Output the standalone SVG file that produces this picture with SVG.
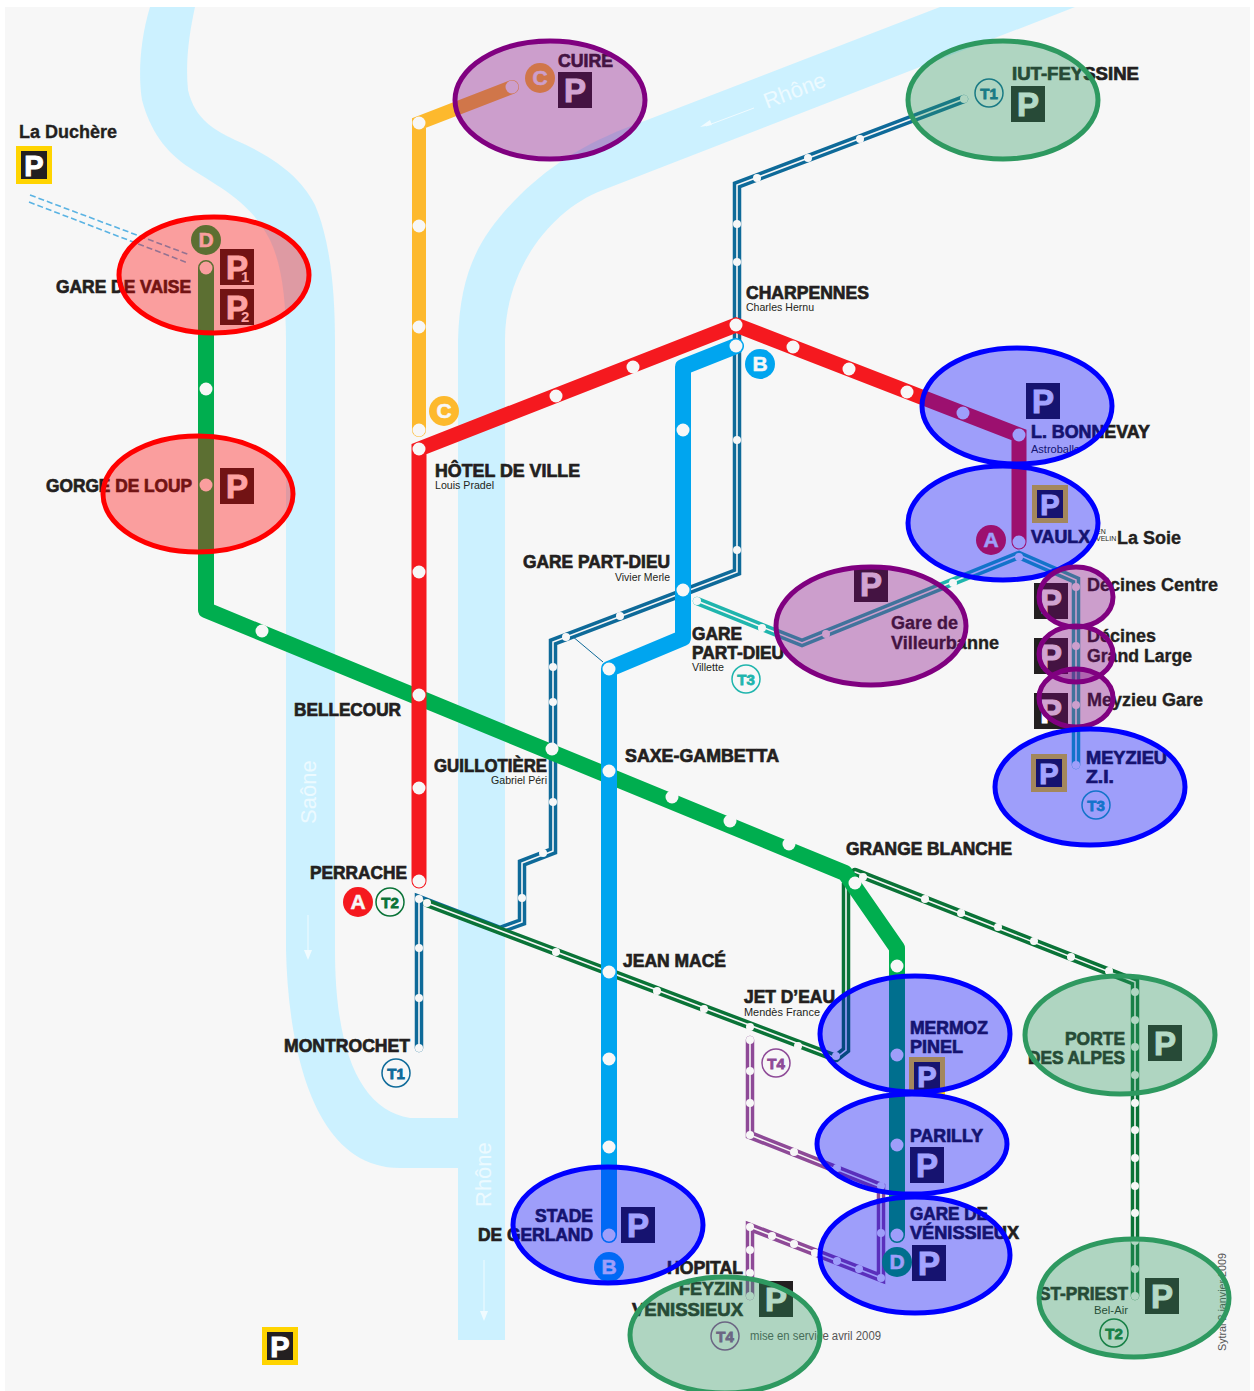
<svg xmlns="http://www.w3.org/2000/svg" width="1254" height="1391" viewBox="0 0 1254 1391">
<style>
text{font-family:"Liberation Sans",Arial,sans-serif;fill:#231f20}
.l{font-size:18px;font-weight:700;stroke:#231f20;stroke-width:.7}
.s{font-size:11px}
.m{font-size:18px;font-weight:700;stroke:#231f20;stroke-width:.35}
.river{fill:#ccf1ff}
.rl{fill:#ecfaff;font-size:22px}
.wa{fill:none;stroke:#f0fbff;stroke-width:1}
.heavy{fill:none;stroke-width:16;stroke-linecap:round;stroke-linejoin:round}
.dbl{fill:none;stroke-width:8.5;stroke-linejoin:miter;stroke-linecap:round}
.in{fill:none;stroke:#f7f7f7;stroke-width:1.6;stroke-linejoin:miter;stroke-linecap:round}
.d6{fill:#f7f7f7;stroke:none}
.ps{fill:#231f20}
.pg{fill:#ffd400}
.pw{font-size:33px;font-weight:700;fill:#fff;text-anchor:middle;stroke:#fff;stroke-width:1}
.ltr{font-size:21px;font-weight:700;fill:#f7f7f7;text-anchor:middle;stroke:#f7f7f7;stroke-width:.5}
.tb{fill:#f7f7f7;stroke-width:1.5}
.tt{font-size:15px;font-weight:700;text-anchor:middle;stroke-width:.8}
.e{stroke-width:5;fill-opacity:.36}
.er{fill:#f00;stroke:#f00}
.eb{fill:#00f;stroke:#00f}
.ep{fill:#800080;stroke:#800080}
.eg{fill:#2e9960;stroke:#2e9960}
</style>
<defs>
<clipPath id="page"><rect x="5" y="7" width="1245" height="1384"/></clipPath>
<symbol id="p" viewBox="0 0 34 36" width="34" height="36"><rect class="ps" width="34" height="36"/><text class="pw" x="17" y="30">P</text></symbol>
<symbol id="pf" viewBox="0 0 36 38" width="36" height="38"><rect class="pg" width="36" height="38"/><rect class="ps" x="5" y="5" width="26" height="28"/><text class="pw" x="18" y="30" style="font-size:29px">P</text></symbol>
</defs>
<rect width="1254" height="1391" fill="#fff"/>
<rect x="5" y="7" width="1245" height="1384" fill="#f7f7f7"/>
<g id="rivers" clip-path="url(#page)">
<path class="river" d="M150 7C140 40 138 75 142 100C150 130 165 152 190 168C215 185 250 200 270 240C282 265 286 300 286 340L286 950C288 1040 310 1168 400 1168L458 1168L458 1340L505 1340L505 340C505 270 550 210 603 190L1075 7L940 7L647 120C590 140 553 163 520 195C480 235 460 270 458 340L458 1118L410 1118C360 1110 335 1050 335 950L335 340C335 290 330 240 315 205C300 175 270 155 235 140C215 130 195 120 188 90C185 60 190 30 195 7Z"/>
<text class="rl" transform="translate(767 109) rotate(-21)">Rhône</text>
<text class="rl" transform="translate(316 824) rotate(-90)">Saône</text>
<text class="rl" transform="translate(491 1207) rotate(-90)">Rhône</text>
<path class="wa" d="M754 108L706 126"/><path fill="#f0fbff" d="M700 127L710 120L712 125Z"/>
<path class="wa" d="M308 915V952"/><path fill="#f0fbff" d="M308 960L304 950H312Z"/>
<path class="wa" d="M484 1260V1312"/><path fill="#f0fbff" d="M484 1321L480 1311H488Z"/>
</g>
<g id="connectors">
<path fill="none" stroke="#5ab3e3" stroke-width="1.6" stroke-dasharray="6 3" d="M30 195L190 255M29 202L188 263"/>
<path fill="none" stroke="#0e6a99" stroke-width="1" d="M572 636L603 662"/>
<path class="dbl" stroke="#0e6a99" d="M964 99L737 185V572L553 642V851L522 863V922L500 930L419 899V1048"/>
<path class="in" d="M964 99L737 185V572L553 642V851L522 863V922L500 930L419 899V1048"/>
<path class="dbl" stroke="#0a7337" d="M427 903L836 1058M855 872L1135 982V1296M836 1058L846 1050V885L855 878"/>
<path class="in" d="M427 903L836 1058M855 872L1135 982V1296M836 1058L846 1050V885L855 878"/>
<path class="dbl" stroke="#1fb5ad" d="M697 601L802 643L1019 555L1076 580V765"/>
<path class="in" d="M697 601L802 643L1019 555L1076 580V765"/>
<path class="dbl" stroke="#8e4a97" d="M750 1040V1135L881 1187V1278L750 1227V1296"/>
<path class="in" d="M750 1040V1135L881 1187V1278L750 1227V1296"/>
<path class="heavy" stroke="#fdb92d" style="stroke-width:14;stroke-linejoin:miter" d="M419 430V123L512 87"/>
<path class="heavy" stroke="#00ae4f" d="M206 268V610L845 873L897 948V1235"/>
<path class="heavy" stroke="#f5191f" style="stroke-width:15;stroke-linejoin:miter" d="M419 881V449L736 325L1019 435V542"/>
<path class="heavy" stroke="#00a5ef" d="M609 1235V669L683 638V367L736 346"/>
</g>
<g id="stops" class="d6">
<g id="stops-large">
<circle cx="419" cy="123" r="6.5"/><circle cx="419" cy="226" r="6.5"/><circle cx="419" cy="327" r="6.5"/><circle cx="419" cy="430" r="6.5"/><circle cx="512" cy="87" r="6.5"/>
<circle cx="419" cy="449" r="6.5"/><circle cx="419" cy="572" r="6.5"/><circle cx="419" cy="695" r="6.5"/><circle cx="419" cy="788" r="6.5"/><circle cx="419" cy="881" r="6.5"/><circle cx="556" cy="396" r="6.5"/><circle cx="633" cy="367" r="6.5"/><circle cx="736" cy="325" r="6.5"/><circle cx="793" cy="347" r="6.5"/><circle cx="849" cy="369" r="6.5"/><circle cx="907" cy="392" r="6.5"/><circle cx="963" cy="413" r="6.5"/><circle cx="1019" cy="435" r="6.5"/><circle cx="1019" cy="542" r="6.5"/>
<circle cx="736" cy="346" r="6.5"/><circle cx="683" cy="430" r="6.5"/><circle cx="683" cy="590" r="6.5"/><circle cx="609" cy="669" r="6.5"/><circle cx="609" cy="771" r="6.5"/><circle cx="609" cy="972" r="6.5"/><circle cx="609" cy="1059" r="6.5"/><circle cx="609" cy="1147" r="6.5"/><circle cx="609" cy="1235" r="6.5"/>
<circle cx="206" cy="268" r="6.5"/><circle cx="206" cy="389" r="6.5"/><circle cx="206" cy="485" r="6.5"/><circle cx="262" cy="631" r="6.5"/><circle cx="552" cy="749" r="6.5"/><circle cx="672" cy="797" r="6.5"/><circle cx="730" cy="821" r="6.5"/><circle cx="789" cy="844" r="6.5"/><circle cx="855" cy="883" r="6.5"/><circle cx="897" cy="966" r="6.5"/><circle cx="897" cy="1055" r="6.5"/><circle cx="897" cy="1145" r="6.5"/><circle cx="897" cy="1235" r="6.5"/>
</g>
<g id="stops-small">
<circle cx="964" cy="99" r="4"/><circle cx="860" cy="139" r="4"/><circle cx="808" cy="158" r="4"/><circle cx="757" cy="178" r="4"/><circle cx="737" cy="224" r="4"/><circle cx="737" cy="262" r="4"/><circle cx="737" cy="440" r="4"/><circle cx="737" cy="550" r="4"/><circle cx="620" cy="616" r="4"/><circle cx="566" cy="637" r="4"/><circle cx="553" cy="667" r="4"/><circle cx="553" cy="702" r="4"/><circle cx="553" cy="802" r="4"/><circle cx="543" cy="853" r="4"/><circle cx="522" cy="898" r="4"/><circle cx="419" cy="899" r="4"/><circle cx="419" cy="948" r="4"/><circle cx="419" cy="998" r="4"/><circle cx="419" cy="1048" r="4"/>
<circle cx="427" cy="903" r="4"/><circle cx="556" cy="952" r="4"/><circle cx="657" cy="991" r="4"/><circle cx="704" cy="1009" r="4"/><circle cx="750" cy="1027" r="4"/><circle cx="798" cy="1046" r="4"/><circle cx="836" cy="1056" r="4"/>
<circle cx="863" cy="877" r="4"/><circle cx="925" cy="899" r="4"/><circle cx="961" cy="913" r="4"/><circle cx="998" cy="927" r="4"/><circle cx="1034" cy="941" r="4"/><circle cx="1071" cy="957" r="4"/><circle cx="1109" cy="971" r="4"/><circle cx="1135" cy="992" r="4"/><circle cx="1135" cy="1020" r="4"/><circle cx="1135" cy="1047" r="4"/><circle cx="1135" cy="1075" r="4"/><circle cx="1135" cy="1103" r="4"/><circle cx="1135" cy="1130" r="4"/><circle cx="1135" cy="1158" r="4"/><circle cx="1135" cy="1186" r="4"/><circle cx="1135" cy="1213" r="4"/><circle cx="1135" cy="1241" r="4"/><circle cx="1135" cy="1269" r="4"/><circle cx="1135" cy="1296" r="4"/>
<circle cx="697" cy="601" r="4"/><circle cx="762" cy="628" r="4"/><circle cx="826" cy="634" r="4"/><circle cx="953" cy="583" r="4"/><circle cx="1019" cy="557" r="4"/><circle cx="1076" cy="587" r="4"/><circle cx="1076" cy="646" r="4"/><circle cx="1076" cy="705" r="4"/><circle cx="1076" cy="765" r="4"/>
<circle cx="750" cy="1040" r="4"/><circle cx="750" cy="1071" r="4"/><circle cx="750" cy="1103" r="4"/><circle cx="750" cy="1135" r="4"/><circle cx="794" cy="1152" r="4"/><circle cx="837" cy="1168" r="4"/><circle cx="881" cy="1186" r="4"/><circle cx="881" cy="1233" r="4"/><circle cx="881" cy="1278" r="4"/><circle cx="859" cy="1269" r="4"/><circle cx="837" cy="1261" r="4"/><circle cx="815" cy="1253" r="4"/><circle cx="794" cy="1244" r="4"/><circle cx="772" cy="1236" r="4"/><circle cx="750" cy="1227" r="4"/><circle cx="750" cy="1250" r="4"/><circle cx="750" cy="1273" r="4"/><circle cx="750" cy="1296" r="4"/>
</g>
</g>
<g id="la-duchere"><text class="m" x="19" y="138" textLength="98" lengthAdjust="spacingAndGlyphs">La Duchère</text><use href="#pf" x="16" y="146"/></g>
<g id="parking-bottom"><use href="#pf" x="262" y="1327"/></g>
<g id="gare-de-vaise"><text class="l" x="56" y="293" textLength="135" lengthAdjust="spacingAndGlyphs">GARE DE VAISE</text><circle cx="206" cy="240" r="15" fill="#00ae4f"/><text class="ltr" x="206" y="247">D</text>
<use href="#p" x="220" y="249"/><text x="241" y="282" style="font-size:15px;font-weight:700;fill:#fff">1</text>
<use href="#p" x="220" y="289"/><text x="241" y="322" style="font-size:15px;font-weight:700;fill:#fff">2</text></g>
<g id="gorge-de-loup"><text class="l" x="46" y="492" textLength="146" lengthAdjust="spacingAndGlyphs">GORGE DE LOUP</text><use href="#p" x="220" y="468"/></g>
<g id="cuire"><text class="l" x="558" y="67" textLength="55" lengthAdjust="spacingAndGlyphs">CUIRE</text><circle cx="540" cy="78" r="15" fill="#fdb92d"/><text class="ltr" x="540" y="85">C</text><use href="#p" x="558" y="72"/></g>
<g id="iut-feyssine"><text class="l" x="1012" y="80" textLength="127" lengthAdjust="spacingAndGlyphs">IUT-FEYSSINE</text><circle class="tb" cx="989" cy="93" r="14" stroke="#0e6a99"/><text class="tt" x="989" y="99" stroke="#0e6a99" style="fill:#0e6a99">T1</text><use href="#p" x="1011" y="86"/></g>
<g id="charpennes"><text class="l" x="746" y="299" textLength="123" lengthAdjust="spacingAndGlyphs">CHARPENNES</text><text class="s" x="746" y="311" textLength="68" lengthAdjust="spacingAndGlyphs">Charles Hernu</text></g>
<g id="hotel-de-ville"><text class="l" x="435" y="477" textLength="145" lengthAdjust="spacingAndGlyphs">HÔTEL DE VILLE</text><text class="s" x="435" y="489" textLength="59" lengthAdjust="spacingAndGlyphs">Louis Pradel</text><circle cx="444" cy="411" r="15" fill="#fdb92d"/><text class="ltr" x="444" y="418">C</text></g>
<g id="gare-part-dieu-vivier"><text class="l" x="523" y="568" textLength="147" lengthAdjust="spacingAndGlyphs">GARE PART-DIEU</text><text class="s" x="615" y="581" textLength="55" lengthAdjust="spacingAndGlyphs">Vivier Merle</text><circle cx="760" cy="364" r="15" fill="#00a5ef"/><text class="ltr" x="760" y="371">B</text></g>
<g id="gare-part-dieu-villette"><text class="l" x="692" y="640" textLength="50" lengthAdjust="spacingAndGlyphs">GARE</text><text class="l" x="692" y="659" textLength="92" lengthAdjust="spacingAndGlyphs">PART-DIEU</text><text class="s" x="692" y="671" textLength="32" lengthAdjust="spacingAndGlyphs">Villette</text><circle class="tb" cx="746" cy="679" r="14" stroke="#1fb5ad"/><text class="tt" x="746" y="685" stroke="#1fb5ad" style="fill:#1fb5ad">T3</text></g>
<g id="l-bonnevay"><use href="#p" x="1026" y="383"/><text class="l" x="1031" y="438" textLength="119" lengthAdjust="spacingAndGlyphs">L. BONNEVAY</text><text class="s" x="1031" y="453" textLength="49" lengthAdjust="spacingAndGlyphs">Astroballe</text></g>
<g id="vaulx-la-soie"><use href="#pf" x="1032" y="485"/><circle cx="991" cy="540" r="15" fill="#f5191f"/><text class="ltr" x="991" y="547">A</text><text class="l" x="1031" y="543" textLength="59" lengthAdjust="spacingAndGlyphs">VAULX</text><text x="1096" y="534" style="font-size:7px">EN</text><text x="1096" y="541" style="font-size:7px">VELIN</text><text class="m" x="1117" y="544" textLength="64" lengthAdjust="spacingAndGlyphs">La Soie</text></g>
<g id="gare-de-villeurbanne"><use href="#p" x="854" y="566"/><text class="m" x="891" y="629" textLength="67" lengthAdjust="spacingAndGlyphs">Gare de</text><text class="m" x="891" y="649" textLength="108" lengthAdjust="spacingAndGlyphs">Villeurbanne</text></g>
<g id="decines-centre"><use href="#p" x="1034" y="583"/><text class="m" x="1087" y="591" textLength="131" lengthAdjust="spacingAndGlyphs">Décines Centre</text></g>
<g id="decines-grand-large"><use href="#p" x="1034" y="638"/><text class="m" x="1087" y="642" textLength="69" lengthAdjust="spacingAndGlyphs">Décines</text><text class="m" x="1087" y="662" textLength="105" lengthAdjust="spacingAndGlyphs">Grand Large</text></g>
<g id="meyzieu-gare"><use href="#p" x="1034" y="693"/><text class="m" x="1087" y="706" textLength="116" lengthAdjust="spacingAndGlyphs">Meyzieu Gare</text></g>
<g id="meyzieu-zi"><use href="#pf" x="1031" y="754"/><text class="l" x="1086" y="764" textLength="81" lengthAdjust="spacingAndGlyphs">MEYZIEU</text><text class="l" x="1086" y="783" textLength="28" lengthAdjust="spacingAndGlyphs">Z.I.</text><circle class="tb" cx="1096" cy="805" r="14" stroke="#1fb5ad"/><text class="tt" x="1096" y="811" stroke="#1fb5ad" style="fill:#1fb5ad">T3</text></g>
<g id="bellecour"><text class="l" x="294" y="716" textLength="107" lengthAdjust="spacingAndGlyphs">BELLECOUR</text></g>
<g id="guillotiere"><text class="l" x="434" y="772" textLength="113" lengthAdjust="spacingAndGlyphs">GUILLOTIÈRE</text><text class="s" x="491" y="784" textLength="56" lengthAdjust="spacingAndGlyphs">Gabriel Péri</text></g>
<g id="saxe-gambetta"><text class="l" x="625" y="762" textLength="154" lengthAdjust="spacingAndGlyphs">SAXE-GAMBETTA</text></g>
<g id="grange-blanche"><text class="l" x="846" y="855" textLength="166" lengthAdjust="spacingAndGlyphs">GRANGE BLANCHE</text></g>
<g id="perrache"><text class="l" x="310" y="879" textLength="97" lengthAdjust="spacingAndGlyphs">PERRACHE</text><circle cx="358" cy="902" r="15" fill="#f5191f"/><text class="ltr" x="358" y="909">A</text><circle class="tb" cx="390" cy="902" r="14" stroke="#0a7337"/><text class="tt" x="390" y="908" stroke="#0a7337" style="fill:#0a7337">T2</text></g>
<g id="jean-mace"><text class="l" x="623" y="967" textLength="103" lengthAdjust="spacingAndGlyphs">JEAN MACÉ</text></g>
<g id="jet-deau"><text class="l" x="744" y="1003" textLength="91" lengthAdjust="spacingAndGlyphs">JET D’EAU</text><text class="s" x="744" y="1016" textLength="76" lengthAdjust="spacingAndGlyphs">Mendès France</text><circle class="tb" cx="776" cy="1063" r="14" stroke="#8e4a97"/><text class="tt" x="776" y="1069" stroke="#8e4a97" style="fill:#8e4a97">T4</text></g>
<g id="montrochet"><text class="l" x="284" y="1052" textLength="126" lengthAdjust="spacingAndGlyphs">MONTROCHET</text><circle class="tb" cx="396" cy="1073" r="14" stroke="#0e6a99"/><text class="tt" x="396" y="1079" stroke="#0e6a99" style="fill:#0e6a99">T1</text></g>
<g id="mermoz-pinel"><text class="l" x="910" y="1034" textLength="78" lengthAdjust="spacingAndGlyphs">MERMOZ</text><text class="l" x="910" y="1053" textLength="53" lengthAdjust="spacingAndGlyphs">PINEL</text><use href="#pf" x="909" y="1057"/></g>
<g id="porte-des-alpes"><text class="l" x="1065" y="1045" textLength="60" lengthAdjust="spacingAndGlyphs">PORTE</text><text class="l" x="1028" y="1064" textLength="97" lengthAdjust="spacingAndGlyphs">DES ALPES</text><use href="#p" x="1148" y="1025"/></g>
<g id="parilly"><text class="l" x="910" y="1142" textLength="73" lengthAdjust="spacingAndGlyphs">PARILLY</text><use href="#p" x="910" y="1147"/></g>
<g id="gare-de-venissieux"><text class="l" x="910" y="1220" textLength="78" lengthAdjust="spacingAndGlyphs">GARE DE</text><text class="l" x="910" y="1239" textLength="109" lengthAdjust="spacingAndGlyphs">VÉNISSIEUX</text><circle cx="897" cy="1262" r="15" fill="#00ae4f"/><text class="ltr" x="897" y="1269">D</text><use href="#p" x="912" y="1245"/></g>
<g id="stade-de-gerland"><text class="l" x="535" y="1222" textLength="58" lengthAdjust="spacingAndGlyphs">STADE</text><text class="l" x="478" y="1241" textLength="115" lengthAdjust="spacingAndGlyphs">DE GERLAND</text><use href="#p" x="621" y="1207"/><circle cx="609" cy="1267" r="15" fill="#00a5ef"/><text class="ltr" x="609" y="1274">B</text></g>
<g id="hopital-feyzin"><text class="l" x="667" y="1274" textLength="76" lengthAdjust="spacingAndGlyphs">HOPITAL</text><text class="l" x="679" y="1295" textLength="64" lengthAdjust="spacingAndGlyphs">FEYZIN</text><text class="l" x="632" y="1316" textLength="111" lengthAdjust="spacingAndGlyphs">VENISSIEUX</text><use href="#p" x="759" y="1281"/><circle class="tb" cx="725" cy="1336" r="14" stroke="#8e4a97"/><text class="tt" x="725" y="1342" stroke="#8e4a97" style="fill:#8e4a97">T4</text><text x="750" y="1340" style="font-size:12px;fill:#555" textLength="131" lengthAdjust="spacingAndGlyphs">mise en service avril 2009</text></g>
<g id="st-priest"><text class="l" x="1039" y="1300" textLength="89" lengthAdjust="spacingAndGlyphs">ST-PRIEST</text><text class="s" x="1094" y="1314" textLength="34" lengthAdjust="spacingAndGlyphs">Bel-Air</text><use href="#p" x="1145" y="1278"/><circle class="tb" cx="1114" cy="1333" r="14" stroke="#0a7337"/><text class="tt" x="1114" y="1339" stroke="#0a7337" style="fill:#0a7337">T2</text></g>
<text transform="translate(1226 1351) rotate(-90)" style="font-size:10px;fill:#555" textLength="98" lengthAdjust="spacingAndGlyphs">Sytral 2 janvier 2009</text>
<g id="highlights">
<ellipse class="e er" cx="214" cy="275" rx="95" ry="58"/>
<ellipse class="e er" cx="198" cy="494" rx="95" ry="58"/>
<ellipse class="e ep" cx="550" cy="100" rx="95" ry="59"/>
<ellipse class="e eg" cx="1003" cy="100" rx="95" ry="59"/>
<ellipse class="e eb" cx="1017" cy="406" rx="95" ry="58"/>
<ellipse class="e eb" cx="1003" cy="523" rx="95" ry="57"/>
<ellipse class="e ep" cx="871" cy="626" rx="95" ry="59"/>
<ellipse class="e ep" cx="1076" cy="597" rx="37" ry="30"/>
<ellipse class="e ep" cx="1076" cy="654" rx="37" ry="28"/>
<ellipse class="e ep" cx="1076" cy="698" rx="37" ry="29"/>
<ellipse class="e eb" cx="1090" cy="787" rx="95" ry="58"/>
<ellipse class="e eb" cx="915" cy="1034" rx="95" ry="58"/>
<ellipse class="e eb" cx="912" cy="1144" rx="95" ry="50"/>
<ellipse class="e eb" cx="915" cy="1255" rx="95" ry="58"/>
<ellipse class="e eg" cx="1120" cy="1035" rx="95" ry="59"/>
<ellipse class="e eg" cx="1134" cy="1298" rx="95" ry="59"/>
<ellipse class="e eb" cx="608" cy="1225" rx="95" ry="58"/>
<ellipse class="e eg" cx="725" cy="1335" rx="95" ry="58"/>
</g>
</svg>
